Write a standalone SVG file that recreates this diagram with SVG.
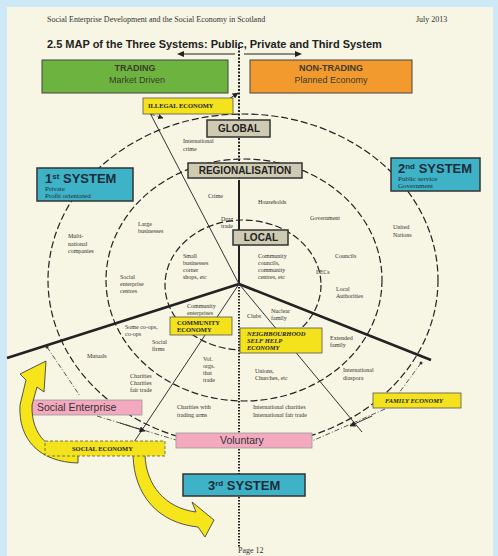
<svg xmlns="http://www.w3.org/2000/svg" width="498" height="556" viewBox="0 0 498 556">
<defs>
<style>
.hdr{font-family:"Liberation Serif",serif;font-size:8px;fill:#333}
.ttl{font-family:"Liberation Sans",sans-serif;font-size:11px;font-weight:bold;fill:#222}
.bt{font-family:"Liberation Sans",sans-serif;font-size:9px;fill:#3a3a2a;text-anchor:middle}
.bb{font-weight:bold}
.lvl{font-family:"Liberation Sans",sans-serif;font-size:10px;font-weight:bold;fill:#222;text-anchor:middle}
.sys{font-family:"Liberation Sans",sans-serif;font-size:13px;font-weight:bold;fill:#1c2c3a}
.sub{font-family:"Liberation Serif",serif;font-size:7px;fill:#1c2c3a}
.lb{font-family:"Liberation Serif",serif;font-size:6px;fill:#333}
.yb{font-family:"Liberation Serif",serif;font-size:6.5px;font-weight:bold;fill:#222}
.pk{font-family:"Liberation Sans",sans-serif;font-size:10.5px;fill:#333}
.ring{fill:none;stroke:#222;stroke-width:1.2;stroke-dasharray:7 3}
.thick{stroke:#222;stroke-width:2.6;fill:none}
.thin{stroke:#333;stroke-width:1;fill:none}
.dd{stroke:#444;stroke-width:0.9;fill:none;stroke-dasharray:5 2 1 2}
.gray{fill:#cfcbb3;stroke:#333;stroke-width:1.5}
.yel{fill:#f3e21c;stroke:#555;stroke-width:0.8}
.teal{fill:#3eb3c7;stroke:#333;stroke-width:1.5}
.pink{fill:#f3a9c0;stroke:#999;stroke-width:0.8}
.arrowY{fill:#f5e51a;stroke:#444;stroke-width:0.9}
.head{fill:#222}
</style>
<marker id="ah" viewBox="0 0 10 10" refX="9" refY="5" markerWidth="6" markerHeight="6" orient="auto">
<path d="M0,0 L10,5 L0,10 z" fill="#222"/>
</marker>
</defs>
<rect x="0" y="0" width="498" height="556" fill="#cde8f7"/>
<rect x="7" y="7" width="486" height="549" fill="#f7f5e3"/>
<text class="hdr" x="47" y="22">Social Enterprise Development and the Social Economy in Scotland</text>
<text class="hdr" x="416" y="22">July 2013</text>
<text class="ttl" x="47" y="48">2.5 MAP of the Three Systems: Public, Private and Third System</text>

<g id="connectors">
<ellipse class="ring" cx="243" cy="280" rx="195" ry="166"/>
<ellipse class="ring" cx="244" cy="280" rx="138" ry="121"/>
<ellipse class="ring" cx="243" cy="285" rx="78" ry="65"/>
<line x1="239" y1="47" x2="239" y2="180" stroke="#222" stroke-width="2" stroke-dasharray="2 1.5"/>
<line x1="239" y1="180" x2="239" y2="284" stroke="#222" stroke-width="2"/>
<line x1="239" y1="284" x2="239" y2="548" stroke="#222" stroke-width="2" stroke-dasharray="1.5 1.5"/>
<line class="thick" x1="239" y1="284" x2="7" y2="358"/>
<line class="thick" x1="239" y1="284" x2="431" y2="360"/>
<line class="thin" x1="239" y1="284" x2="150" y2="113"/>
<line class="thin" x1="239" y1="284" x2="134" y2="442"/>
<line class="thin" x1="239" y1="284" x2="362" y2="432"/>
<line x1="235" y1="54" x2="182" y2="54" stroke="#222" stroke-width="1"/>
<polygon class="head" points="177,54 184,51 184,57"/>
<line x1="244" y1="54" x2="297" y2="54" stroke="#222" stroke-width="1"/>
<polygon class="head" points="302,54 295,51 295,57"/>
<line x1="229" y1="99" x2="238" y2="93" stroke="#222" stroke-width="1" marker-end="url(#ah)"/>
<line x1="150" y1="114" x2="163" y2="118" class="dd" marker-end="url(#ah)"/>
<line class="dd" x1="97" y1="416" x2="176" y2="440"/>
<line x1="120" y1="423" x2="145" y2="431" stroke="#333" stroke-width="1" marker-end="url(#ah)"/>
<line class="dd" x1="385" y1="409" x2="312" y2="441"/>
<line x1="372" y1="416" x2="350" y2="426" stroke="#333" stroke-width="1" marker-end="url(#ah)"/>
<line class="dd" x1="47" y1="347" x2="80" y2="396"/>
<circle cx="47" cy="347" r="1.5" fill="#333"/>
<line class="dd" x1="421" y1="363" x2="399" y2="393"/>
<circle cx="421" cy="363" r="1.5" fill="#333"/>
</g>

<g id="trading"><rect x="42" y="60" width="186" height="33" fill="#6db33f" stroke="#444" stroke-width="1"/>
<text class="bt bb" x="135" y="71">TRADING</text><text class="bt" x="137" y="83">Market Driven</text></g>
<g id="non-trading"><rect x="250" y="60" width="162" height="33" fill="#f39a2f" stroke="#444" stroke-width="1"/>
<text class="bt bb" x="331" y="71">NON-TRADING</text><text class="bt" x="331" y="83">Planned Economy</text></g>
<g id="illegal"><rect class="yel" x="143" y="98" width="90" height="16"/>
<text class="yb" x="148" y="108" font-size="5.5">ILLEGAL ECONOMY</text></g>
<g id="global"><rect class="gray" x="207" y="120" width="63" height="17"/><text class="lvl" x="239" y="132">GLOBAL</text></g>
<g id="regional"><rect class="gray" x="188" y="163" width="114" height="15"/><text class="lvl" x="245" y="174">REGIONALISATION</text></g>
<g id="local"><rect class="gray" x="233" y="230" width="55" height="15"/><text class="lvl" x="261" y="241" font-family="Liberation Serif,serif">LOCAL</text></g>

<g id="system1"><rect class="teal" x="37" y="168" width="96" height="33"/>
<text class="sys" x="45" y="183">1<tspan font-size="8" dy="-4">st</tspan><tspan dy="4"> SYSTEM</tspan></text>
<text class="sub" x="45" y="191">Private</text><text class="sub" x="45" y="198">Profit orientated</text></g>
<g id="system2"><rect class="teal" x="391" y="158" width="89" height="33"/>
<text class="sys" x="398" y="173">2<tspan font-size="8" dy="-4">nd</tspan><tspan dy="4"> SYSTEM</tspan></text>
<text class="sub" x="398" y="181">Public service</text><text class="sub" x="398" y="188">Government</text></g>
<g id="system3"><rect class="teal" x="183" y="474" width="122" height="22"/>
<text class="sys" x="208" y="490">3<tspan font-size="8" dy="-4">rd</tspan><tspan dy="4"> SYSTEM</tspan></text></g>

<g id="community"><rect class="yel" x="170" y="317" width="62" height="18"/>
<text class="yb" x="177" y="325">COMMUNITY</text><text class="yb" x="177" y="332">ECONOMY</text></g>
<g id="neighbourhood"><rect class="yel" x="240" y="328" width="82" height="25"/>
<text class="yb" x="247" y="336" font-style="italic">NEIGHBOURHOOD</text><text class="yb" x="247" y="343" font-style="italic">SELF HELP</text><text class="yb" x="247" y="350" font-style="italic">ECONOMY</text></g>
<g id="family"><rect class="yel" x="373" y="393" width="88" height="15"/>
<text class="yb" x="385" y="403" font-style="italic" font-family="Liberation Sans,sans-serif" font-size="7">FAMILY ECONOMY</text></g>
<g id="social-enterprise"><rect class="pink" x="32" y="400" width="110" height="15"/><text class="pk" x="37" y="411">Social Enterprise</text></g>
<g id="voluntary"><rect class="pink" x="176" y="433" width="136" height="15"/><text class="pk" x="220" y="444">Voluntary</text></g>
<g id="arrows-yellow">
<path class="arrowY" d="M78 463 C40 462,18 440,20 405 L26 380 L20 374 L46 361 L44 392 L37 387 L32 405 C31 436,50 453,78 453 Z"/>
<path class="arrowY" d="M145 455 C146 485,165 508,196 512 L192 502 L214 520 L205 537 L198 527 C158 523,134 495,133 455 Z"/>
</g>
<g id="social-economy"><rect x="45" y="441" width="120" height="15" fill="#f3e21c" stroke="#555" stroke-width="0.8" stroke-dasharray="3 2"/>
<text class="yb" x="72" y="451" font-size="6">SOCIAL ECONOMY</text></g>

<g id="labels">
<text class="lb" x="183" y="143">International</text><text class="lb" x="183" y="151">crime</text>
<text class="lb" x="208" y="198">Crime</text>
<text class="lb" x="221" y="221">Drug</text><text class="lb" x="221" y="228">trade</text>
<text class="lb" x="258" y="204">Households</text>
<text class="lb" x="310" y="220">Government</text>
<text class="lb" x="393" y="229">United</text><text class="lb" x="393" y="237">Nations</text>
<text class="lb" x="138" y="226">Large</text><text class="lb" x="138" y="233">businesses</text>
<text class="lb" x="68" y="238">Multi-</text><text class="lb" x="68" y="246">national</text><text class="lb" x="68" y="253">companies</text>
<text class="lb" x="183" y="258">Small</text><text class="lb" x="183" y="265">businesses</text><text class="lb" x="183" y="272">corner</text><text class="lb" x="183" y="279">shops, etc</text>
<text class="lb" x="258" y="258">Community</text><text class="lb" x="258" y="265">councils,</text><text class="lb" x="258" y="272">community</text><text class="lb" x="258" y="279">centres, etc</text>
<text class="lb" x="335" y="258">Councils</text>
<text class="lb" x="316" y="274">LECs</text>
<text class="lb" x="336" y="291">Local</text><text class="lb" x="336" y="298">Authorities</text>
<text class="lb" x="120" y="279">Social</text><text class="lb" x="120" y="286">enterprise</text><text class="lb" x="120" y="293">centres</text>
<text class="lb" x="187" y="308">Community</text><text class="lb" x="187" y="315">enterprises</text>
<text class="lb" x="271" y="313">Nuclear</text><text class="lb" x="271" y="320">family</text>
<text class="lb" x="247" y="318">Clubs</text>
<text class="lb" x="330" y="340">Extended</text><text class="lb" x="330" y="347">family</text>
<text class="lb" x="343" y="372">International</text><text class="lb" x="343" y="380">diaspora</text>
<text class="lb" x="255" y="373">Unions,</text><text class="lb" x="255" y="380">Churches, etc</text>
<text class="lb" x="125" y="329">Some co-ops,</text><text class="lb" x="125" y="336">co-ops</text>
<text class="lb" x="152" y="344">Social</text><text class="lb" x="152" y="351">firms</text>
<text class="lb" x="203" y="361">Vol.</text><text class="lb" x="203" y="368">orgs.</text><text class="lb" x="203" y="375">that</text><text class="lb" x="203" y="382">trade</text>
<text class="lb" x="87" y="358">Mutuals</text>
<text class="lb" x="130" y="378">Charities</text><text class="lb" x="130" y="385">Charities</text><text class="lb" x="130" y="392">fair trade</text>
<text class="lb" x="177" y="409">Charities with</text><text class="lb" x="177" y="417">trading arms</text>
<text class="lb" x="253" y="409">International charities</text><text class="lb" x="253" y="417">International fair trade</text>
</g>
<text class="hdr" x="238" y="553" font-size="7">Page 12</text>
</svg>
